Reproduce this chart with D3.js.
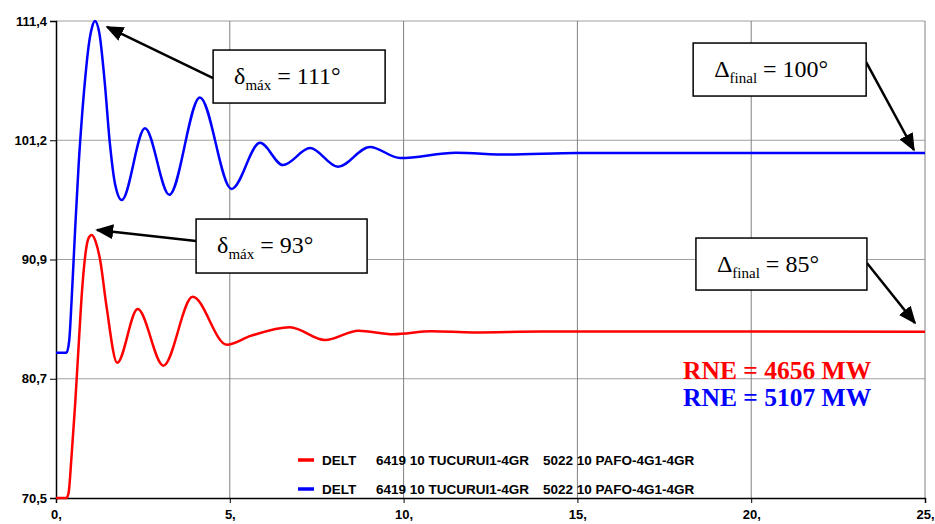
<!DOCTYPE html>
<html>
<head>
<meta charset="utf-8">
<script src="https://cdn.jsdelivr.net/npm/d3@7"></script>
<style>
  body { margin: 0; background: #fff; }
  svg { display: block; }
</style>
</head>
<body>
<div id="chart"></div>
<script>
// 時間軸 (s) 與兩條功角曲線 (度)
const xTicks = [0, 5, 10, 15, 20, 25];
const xTickLabels = ["0,", "5,", "10,", "15,", "20,", "25,"];
const yTickLabels = ["70,5", "80,7", "90,9", "101,2", "111,4"];

const redT = [0, 0.3, 0.36, 0.45, 0.55, 0.65, 0.75, 0.85, 0.94, 1.03, 1.15, 1.27, 1.45, 1.76, 2.35, 3.09, 3.93, 4.91, 5.6, 6.73, 7.74, 8.7, 9.7, 10.8, 12, 14, 25];
const redV = [70.5, 70.5, 70.9, 74.2, 78.5, 83.5, 88.3, 91.5, 92.8, 93.06, 92.4, 90.9, 87.0, 82.1, 86.7, 81.85, 87.75, 83.65, 84.4, 85.15, 84.05, 84.85, 84.55, 84.8, 84.7, 84.78, 84.75];

const blueT = [0, 0.3, 0.38, 0.45, 0.55, 0.65, 0.75, 0.85, 0.95, 1.04, 1.12, 1.25, 1.4, 1.55, 1.7, 1.89, 2.56, 3.26, 4.14, 5.05, 5.87, 6.53, 7.31, 8.11, 9.03, 9.9, 11.5, 13, 15, 25];
const blueV = [82.95, 82.95, 84.0, 87.5, 93.5, 99.0, 103.3, 106.8, 109.5, 110.9, 111.4, 110.3, 106.2, 100.9, 97.4, 96.05, 102.2, 96.5, 104.85, 97.0, 100.95, 99.05, 100.5, 98.9, 100.6, 99.65, 100.1, 99.95, 100.08, 100.08];

const legendNames = ["DELT", "6419 10 TUCURUI1-4GR", "5022 10 PAFO-4G1-4GR"];
const rneLabels = ["RNE = 4656 MW", "RNE = 5107 MW"];

const width = 935, height = 524;
const margin = { top: 21, right: 10, bottom: 26, left: 56 };

const x = d3.scaleLinear().domain([0, 25]).range([margin.left, width - margin.right]);
const y = d3.scaleLinear().domain([70.5, 111.4]).range([height - margin.bottom, margin.top]);
const yTicks = d3.range(5).map(i => 70.5 + i * (111.4 - 70.5) / 4);

const svg = d3.select("#chart").append("svg")
  .attr("width", width)
  .attr("height", height);

// 格線
svg.append("g")
  .selectAll("line")
  .data(yTicks.slice(1))
  .join("line")
  .attr("x1", x(0)).attr("x2", x(25))
  .attr("y1", d => y(d)).attr("y2", d => y(d))
  .attr("stroke", "#a0a0a0").attr("stroke-width", 1);

svg.append("g")
  .selectAll("line")
  .data(xTicks.slice(1))
  .join("line")
  .attr("x1", d => x(d)).attr("x2", d => x(d))
  .attr("y1", y(111.4)).attr("y2", y(70.5))
  .attr("stroke", "#808080").attr("stroke-width", 1);

// 座標軸
svg.append("g")
  .attr("transform", `translate(${x(0)},0)`)
  .call(d3.axisLeft(y).tickValues(yTicks).tickSize(6).tickFormat((d, i) => yTickLabels[i]))
  .call(g => g.select(".domain").attr("stroke", "#000").attr("stroke-width", 1.5))
  .call(g => g.selectAll("text")
    .attr("x", -9)
    .attr("font-family", "Liberation Sans, Arial, sans-serif")
    .attr("font-weight", "bold")
    .attr("font-size", 13)
    .attr("fill", "#000"));

svg.append("g")
  .attr("transform", `translate(0,${y(70.5)})`)
  .call(d3.axisBottom(x).tickValues(xTicks).tickSize(5).tickFormat((d, i) => xTickLabels[i]))
  .call(g => g.select(".domain").attr("stroke", "#000").attr("stroke-width", 1.5))
  .call(g => g.selectAll("text")
    .attr("y", 12)
    .attr("font-family", "Liberation Sans, Arial, sans-serif")
    .attr("font-weight", "bold")
    .attr("font-size", 13)
    .attr("fill", "#000"));

// 曲線
const line = d3.line()
  .x(d => x(d[0]))
  .y(d => y(d[1]))
  .curve(d3.curveMonotoneX);

const series = [
  { color: "#ff0000", pts: d3.zip(redT, redV) },
  { color: "#0000ff", pts: d3.zip(blueT, blueV) }
];

svg.append("g")
  .selectAll("path")
  .data(series)
  .join("path")
  .attr("fill", "none")
  .attr("stroke", d => d.color)
  .attr("stroke-width", 2.5)
  .attr("d", d => line(d.pts));

// 圖例
const legend = svg.append("g").attr("font-family", "Liberation Sans, Arial, sans-serif")
  .attr("font-weight", "bold").attr("font-size", 13.5);
const legendX = [322, 376, 543];
series.forEach((s, i) => {
  const ly = 460 + i * 29;
  legend.append("line")
    .attr("x1", 298).attr("x2", 314)
    .attr("y1", ly).attr("y2", ly)
    .attr("stroke", s.color).attr("stroke-width", 3.5);
  legend.selectAll(null)
    .data(legendNames)
    .join("text")
    .attr("x", (d, j) => legendX[j])
    .attr("y", ly + 5)
    .attr("fill", "#000")
    .text(d => d);
});

// 註解框與箭頭
const annotations = [
  { main: "δ", sub: "máx", rest: " = 111°", t: 4.52, v: 108.91, w: 172, h: 53, side: "left", off: 28, tipT: 1.47, tipV: 110.89 },
  { main: "δ", sub: "máx", rest: " = 93°", t: 4.03, v: 94.42, w: 171, h: 54, side: "left", off: 22, tipT: 1.18, tipV: 93.48 },
  { main: "Δ", sub: "final", rest: " = 100°", t: 18.33, v: 109.51, w: 173, h: 53, side: "right", off: 19, tipT: 24.68, tipV: 100.34 },
  { main: "Δ", sub: "final", rest: " = 85°", t: 18.41, v: 92.79, w: 171, h: 52, side: "right", off: 25, tipT: 24.71, tipV: 85.51 }
];

const defs = svg.append("defs");
defs.append("marker")
  .attr("id", "arrow")
  .attr("viewBox", "0 0 10 10")
  .attr("refX", 9).attr("refY", 5)
  .attr("markerWidth", 18).attr("markerHeight", 15)
  .attr("markerUnits", "userSpaceOnUse")
  .attr("orient", "auto")
  .attr("preserveAspectRatio", "none")
  .append("path")
  .attr("d", "M0,0L10,5L0,10Z")
  .attr("fill", "#000");

const ann = svg.append("g");
annotations.forEach(a => {
  const bx = x(a.t), by = y(a.v);
  const sx = a.side === "left" ? bx : bx + a.w;
  ann.append("line")
    .attr("x1", sx).attr("y1", by + a.off)
    .attr("x2", x(a.tipT)).attr("y2", y(a.tipV))
    .attr("stroke", "#000").attr("stroke-width", 2.5)
    .attr("marker-end", "url(#arrow)");
  ann.append("rect")
    .attr("x", bx).attr("y", by)
    .attr("width", a.w).attr("height", a.h)
    .attr("fill", "#fff").attr("stroke", "#000").attr("stroke-width", 1.5);
  const txt = ann.append("text")
    .attr("x", bx + 21).attr("y", by + 34)
    .attr("font-family", "Liberation Serif, Times New Roman, serif")
    .attr("font-size", 24)
    .attr("fill", "#000");
  txt.append("tspan").text(a.main);
  txt.append("tspan").attr("font-size", 15).attr("dy", 6).text(a.sub);
  txt.append("tspan").attr("dy", -6).text(a.rest);
});

// RNE 標示
svg.append("g")
  .selectAll("text")
  .data(rneLabels)
  .join("text")
  .attr("x", x(18.04))
  .attr("y", (d, i) => 379 + i * 27)
  .attr("font-family", "Liberation Serif, Times New Roman, serif")
  .attr("font-weight", "bold")
  .attr("font-size", 25.5)
  .attr("fill", (d, i) => series[i].color)
  .text(d => d);
</script>
</body>
</html>
